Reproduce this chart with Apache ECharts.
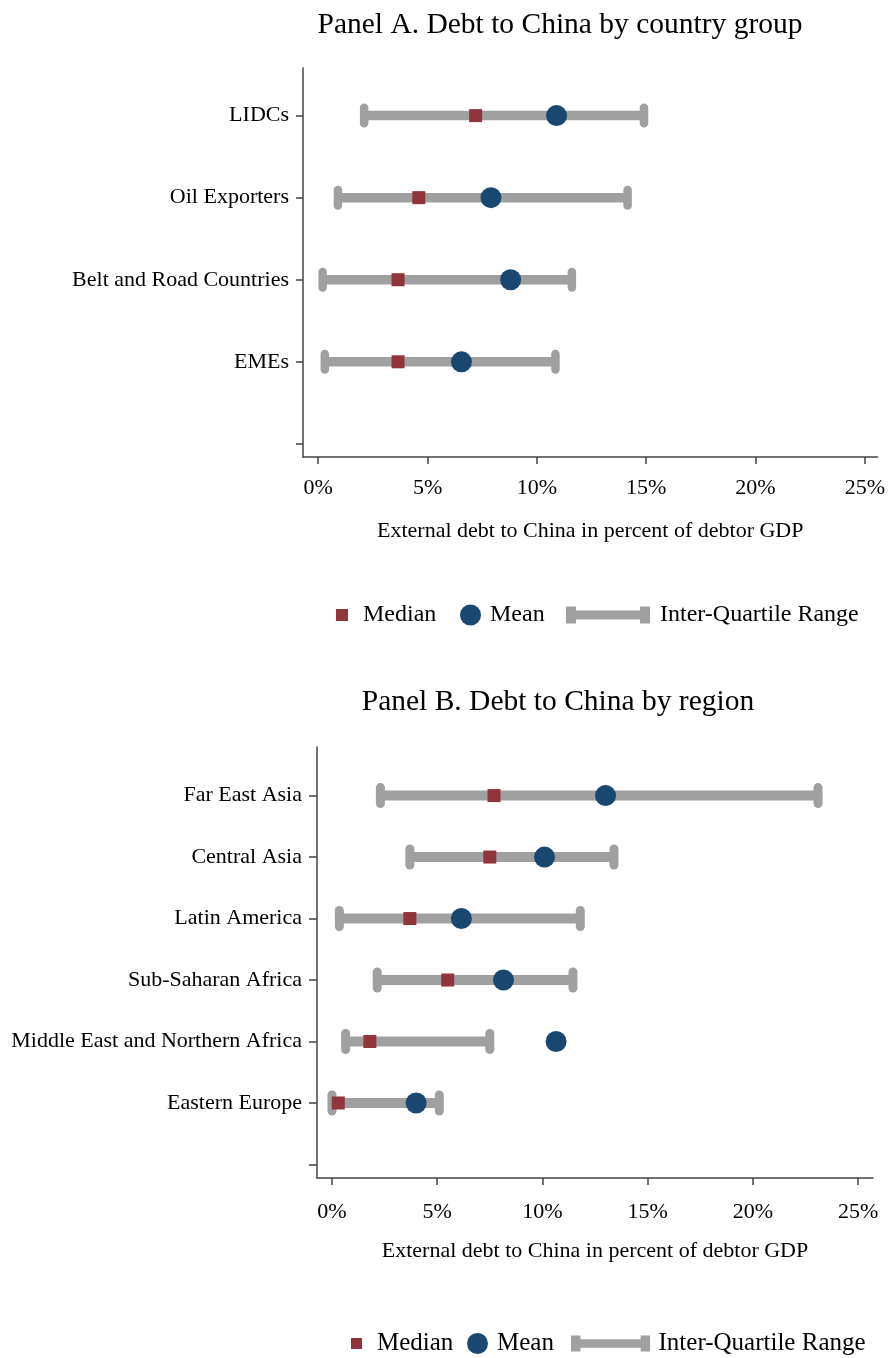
<!DOCTYPE html>
<html>
<head>
<meta charset="utf-8">
<script src="https://cdn.jsdelivr.net/npm/echarts@6/dist/echarts.min.js"></script>
<style>
html,body{margin:0;padding:0;background:#fff;}
#c{width:888px;height:1358px;}
</style>
</head>
<body>
<div id="c"></div>
<script>
// ---- Data (percent of debtor GDP) ----
const groupNames  = ['LIDCs', 'Oil Exporters', 'Belt and Road Countries', 'EMEs'];
const groupQ1     = [2.1, 0.9, 0.2, 0.3];
const groupQ3     = [14.9, 14.15, 11.6, 10.85];
const groupMedian = [7.2, 4.6, 3.65, 3.65];
const groupMean   = [10.9, 7.9, 8.8, 6.55];

const regionNames  = ['Far East Asia', 'Central Asia', 'Latin America', 'Sub-Saharan Africa', 'Middle East and Northern Africa', 'Eastern Europe'];
const regionQ1     = [2.3, 3.7, 0.35, 2.15, 0.65, 0.0];
const regionQ3     = [23.1, 13.4, 11.8, 11.45, 7.5, 5.1];
const regionMedian = [7.7, 7.5, 3.7, 5.5, 1.8, 0.3];
const regionMean   = [13.0, 10.1, 6.15, 8.15, 10.65, 4.0];

const xTicks = [0, 5, 10, 15, 20, 25];
const titleA = 'Panel A. Debt to China by country group';
const titleB = 'Panel B. Debt to China by region';
const xTitle = 'External debt to China in percent of debtor GDP';

// ---- Styles ----
const FONT = 'Liberation Serif, Times New Roman, serif';
const GRAY = '#A0A0A0';
const MAROON = '#90353B';
const NAVY = '#1A476F';
const AXIS = '#444444';

function pos(names) { return names.map((_, i) => names.length - i); }
const posA = pos(groupNames), posB = pos(regionNames);

function iqrData(q1, q3, p) { return q1.map((v, i) => [v, q3[i], p[i]]); }
function ptData(v, p) { return v.map((x, i) => [x, p[i]]); }

function iqrRender(barH, capW, capH) {
  return function (params, api) {
    const a = api.coord([api.value(0), api.value(2)]);
    const b = api.coord([api.value(1), api.value(2)]);
    const st = { fill: GRAY };
    return {
      type: 'group',
      children: [
        { type: 'rect', shape: { x: a[0], y: a[1] - barH / 2, width: b[0] - a[0], height: barH }, style: st },
        { type: 'rect', shape: { x: a[0] - capW / 2, y: a[1] - capH / 2, width: capW, height: capH, r: capW / 2 }, style: st },
        { type: 'rect', shape: { x: b[0] - capW / 2, y: b[1] - capH / 2, width: capW, height: capH, r: capW / 2 }, style: st }
      ]
    };
  };
}

function xAxisCfg(gi, min, max, margin, nameGap) {
  return {
    type: 'value', gridIndex: gi, min: min, max: max,
    splitLine: { show: false },
    axisLine: { show: true, onZero: false, lineStyle: { color: AXIS, width: 1.5 } },
    axisTick: { show: true, length: 7, customValues: xTicks, lineStyle: { color: AXIS, width: 1.5 } },
    axisLabel: { customValues: xTicks, formatter: v => v + '%', fontFamily: FONT, fontSize: 22, color: '#000', margin: margin },
    name: xTitle, nameLocation: 'middle', nameGap: nameGap,
    nameTextStyle: { fontFamily: FONT, fontSize: 22, color: '#000' }
  };
}
function yAxisCfg(gi, names, min, max, tickLen, margin) {
  const n = names.length;
  const ticks = [];
  for (let i = 0; i <= n; i++) ticks.push(i);
  return {
    type: 'value', gridIndex: gi, min: min, max: max,
    splitLine: { show: false },
    axisLine: { show: true, onZero: false, lineStyle: { color: AXIS, width: 1.5 } },
    axisTick: { show: true, length: tickLen, customValues: ticks, lineStyle: { color: AXIS, width: 1.5 } },
    axisLabel: {
      customValues: ticks.slice(1),
      formatter: v => names[n - Math.round(v)] || '',
      fontFamily: FONT, fontSize: 22, color: '#000', margin: margin
    }
  };
}

function legendItem(name, icon, w, h, left, top, fs, padLeft) {
  return {
    data: [{ name: name, icon: icon }],
    left: left, top: top, padding: 0, orient: 'horizontal',
    itemWidth: w, itemHeight: h, selectedMode: false,
    textStyle: { fontFamily: FONT, fontSize: fs, color: '#000', padding: [0, 0, 0, padLeft] }
  };
}
const iqrIcon = 'path://M0,0H10V4H74V0H84V17H74V13H10V17H0Z';

const option = {
  backgroundColor: '#fff',
  animation: false,
  title: [
    { text: titleA, left: 555, top: 5, textAlign: 'center', textStyle: { fontFamily: FONT, fontSize: 29.5, fontWeight: 'normal', color: '#000' } },
    { text: titleB, left: 553, top: 682, textAlign: 'center', textStyle: { fontFamily: FONT, fontSize: 29.5, fontWeight: 'normal', color: '#000' } }
  ],
  grid: [
    { left: 303, top: 68, width: 577, height: 389 },
    { left: 317, top: 747, width: 556, height: 431 }
  ],
  xAxis: [
    xAxisCfg(0, -0.697, 25.58, 20, 63),
    xAxisCfg(1, -0.712, 25.71, 23, 62)
  ],
  yAxis: [
    yAxisCfg(0, groupNames, -0.16, 4.58, 7, 14),
    yAxisCfg(1, regionNames, -0.22, 6.79, 8, 15)
  ],
  legend: [
    legendItem('Median', 'rect', 12, 12, 336, 603, 24, 10),
    legendItem('Mean', 'circle', 21, 21, 460, 603, 24, 4),
    legendItem('Inter-Quartile Range', iqrIcon, 86, 17, 566, 603, 24, 4),
    legendItem('Median', 'rect', 11, 11, 351, 1331, 25, 10),
    legendItem('Mean', 'circle', 21, 21, 467, 1331, 25, 4),
    legendItem('Inter-Quartile Range', iqrIcon, 82, 16, 571, 1331, 25, 2)
  ],
  series: [
    { name: 'Inter-Quartile Range', type: 'custom', xAxisIndex: 0, yAxisIndex: 0, itemStyle: { color: GRAY },
      renderItem: iqrRender(9.5, 8.5, 24), encode: { x: [0, 1], y: 2 }, data: iqrData(groupQ1, groupQ3, posA), z: 1 },
    { name: 'Median', type: 'scatter', xAxisIndex: 0, yAxisIndex: 0, symbol: 'rect', symbolSize: 13,
      itemStyle: { color: MAROON, opacity: 1 }, data: ptData(groupMedian, posA), z: 3 },
    { name: 'Mean', type: 'scatter', xAxisIndex: 0, yAxisIndex: 0, symbol: 'circle', symbolSize: 21,
      itemStyle: { color: NAVY, opacity: 1 }, data: ptData(groupMean, posA), z: 4 },

    { name: 'Inter-Quartile Range', type: 'custom', xAxisIndex: 1, yAxisIndex: 1, itemStyle: { color: GRAY },
      renderItem: iqrRender(10, 9, 25), encode: { x: [0, 1], y: 2 }, data: iqrData(regionQ1, regionQ3, posB), z: 1 },
    { name: 'Median', type: 'scatter', xAxisIndex: 1, yAxisIndex: 1, symbol: 'rect', symbolSize: 13,
      itemStyle: { color: MAROON, opacity: 1 }, data: ptData(regionMedian, posB), z: 3 },
    { name: 'Mean', type: 'scatter', xAxisIndex: 1, yAxisIndex: 1, symbol: 'circle', symbolSize: 21,
      itemStyle: { color: NAVY, opacity: 1 }, data: ptData(regionMean, posB), z: 4 }
  ]
};

const chart = echarts.init(document.getElementById('c'), null, { renderer: 'canvas' });
chart.setOption(option);
</script>
</body>
</html>
